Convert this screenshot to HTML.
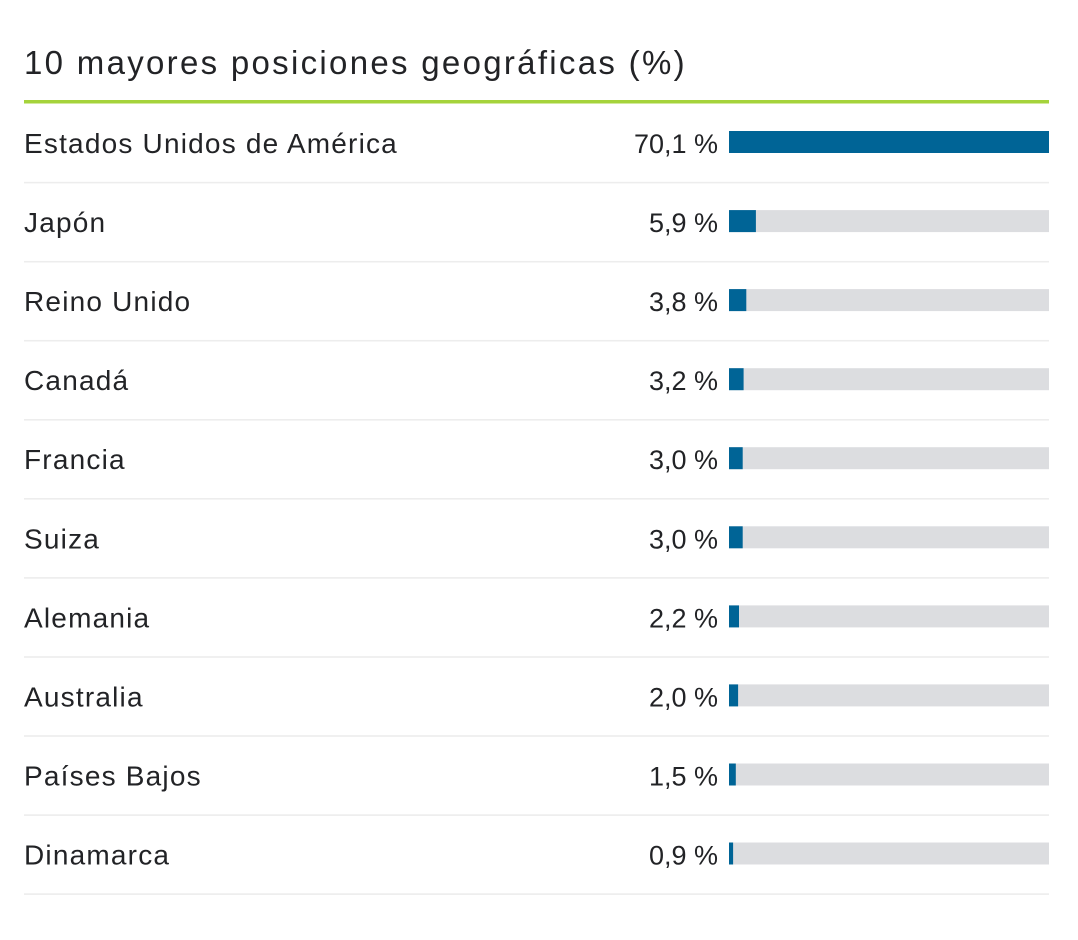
<!DOCTYPE html>
<html>
<head>
<meta charset="utf-8">
<style>
  html, body { margin: 0; padding: 0; background: #ffffff; }
  body { width: 1078px; height: 940px; overflow: hidden; }
  svg { display: block; }
  .title { font-family: "Liberation Sans", sans-serif; font-size: 33px; fill: #222326; letter-spacing: 2.3px; }
  .lab { font-family: "Liberation Sans", sans-serif; font-size: 28px; fill: #222326; letter-spacing: 1.2px; }
  .pct { font-family: "Liberation Sans", sans-serif; font-size: 27px; fill: #222326; }
</style>
</head>
<body>
<svg width="1078" height="940" viewBox="0 0 1078 940" xmlns="http://www.w3.org/2000/svg">
  <rect x="0" y="0" width="1078" height="940" fill="#ffffff"/>
  <text class="title" x="24" y="74">10 mayores posiciones geográficas (%)</text>
  <rect x="24" y="100" width="1025" height="3.5" fill="#a5d33b"/>

  <!-- Row 1 -->
  <text class="lab" x="24" y="153">Estados Unidos de América</text>
  <text class="pct" x="718" y="153" text-anchor="end">70,1 %</text>
  <rect x="729" y="131" width="320" height="22" fill="#dcdde0"/>
  <rect x="729" y="131" width="320" height="22" fill="#006496"/>
  <rect x="24" y="181.8" width="1025" height="1.6" fill="#ededed"/>

  <!-- Row 2 -->
  <text class="lab" x="24" y="232.1">Japón</text>
  <text class="pct" x="718" y="232.1" text-anchor="end">5,9 %</text>
  <rect x="729" y="210.1" width="320" height="22" fill="#dcdde0"/>
  <rect x="729" y="210.1" width="26.9" height="22" fill="#006496"/>
  <rect x="24" y="260.9" width="1025" height="1.6" fill="#ededed"/>

  <!-- Row 3 -->
  <text class="lab" x="24" y="311.1">Reino Unido</text>
  <text class="pct" x="718" y="311.1" text-anchor="end">3,8 %</text>
  <rect x="729" y="289.1" width="320" height="22" fill="#dcdde0"/>
  <rect x="729" y="289.1" width="17.3" height="22" fill="#006496"/>
  <rect x="24" y="339.9" width="1025" height="1.6" fill="#ededed"/>

  <!-- Row 4 -->
  <text class="lab" x="24" y="390.2">Canadá</text>
  <text class="pct" x="718" y="390.2" text-anchor="end">3,2 %</text>
  <rect x="729" y="368.2" width="320" height="22" fill="#dcdde0"/>
  <rect x="729" y="368.2" width="14.6" height="22" fill="#006496"/>
  <rect x="24" y="419" width="1025" height="1.6" fill="#ededed"/>

  <!-- Row 5 -->
  <text class="lab" x="24" y="469.2">Francia</text>
  <text class="pct" x="718" y="469.2" text-anchor="end">3,0 %</text>
  <rect x="729" y="447.2" width="320" height="22" fill="#dcdde0"/>
  <rect x="729" y="447.2" width="13.7" height="22" fill="#006496"/>
  <rect x="24" y="498" width="1025" height="1.6" fill="#ededed"/>

  <!-- Row 6 -->
  <text class="lab" x="24" y="548.3">Suiza</text>
  <text class="pct" x="718" y="548.3" text-anchor="end">3,0 %</text>
  <rect x="729" y="526.3" width="320" height="22" fill="#dcdde0"/>
  <rect x="729" y="526.3" width="13.7" height="22" fill="#006496"/>
  <rect x="24" y="577.1" width="1025" height="1.6" fill="#ededed"/>

  <!-- Row 7 -->
  <text class="lab" x="24" y="627.4">Alemania</text>
  <text class="pct" x="718" y="627.4" text-anchor="end">2,2 %</text>
  <rect x="729" y="605.4" width="320" height="22" fill="#dcdde0"/>
  <rect x="729" y="605.4" width="10" height="22" fill="#006496"/>
  <rect x="24" y="656.2" width="1025" height="1.6" fill="#ededed"/>

  <!-- Row 8 -->
  <text class="lab" x="24" y="706.4">Australia</text>
  <text class="pct" x="718" y="706.4" text-anchor="end">2,0 %</text>
  <rect x="729" y="684.4" width="320" height="22" fill="#dcdde0"/>
  <rect x="729" y="684.4" width="9.1" height="22" fill="#006496"/>
  <rect x="24" y="735.2" width="1025" height="1.6" fill="#ededed"/>

  <!-- Row 9 -->
  <text class="lab" x="24" y="785.5">Países Bajos</text>
  <text class="pct" x="718" y="785.5" text-anchor="end">1,5 %</text>
  <rect x="729" y="763.5" width="320" height="22" fill="#dcdde0"/>
  <rect x="729" y="763.5" width="6.8" height="22" fill="#006496"/>
  <rect x="24" y="814.3" width="1025" height="1.6" fill="#ededed"/>

  <!-- Row 10 -->
  <text class="lab" x="24" y="864.5">Dinamarca</text>
  <text class="pct" x="718" y="864.5" text-anchor="end">0,9 %</text>
  <rect x="729" y="842.5" width="320" height="22" fill="#dcdde0"/>
  <rect x="729" y="842.5" width="4.1" height="22" fill="#006496"/>
  <rect x="24" y="893.3" width="1025" height="1.6" fill="#ededed"/>
</svg>
</body>
</html>
